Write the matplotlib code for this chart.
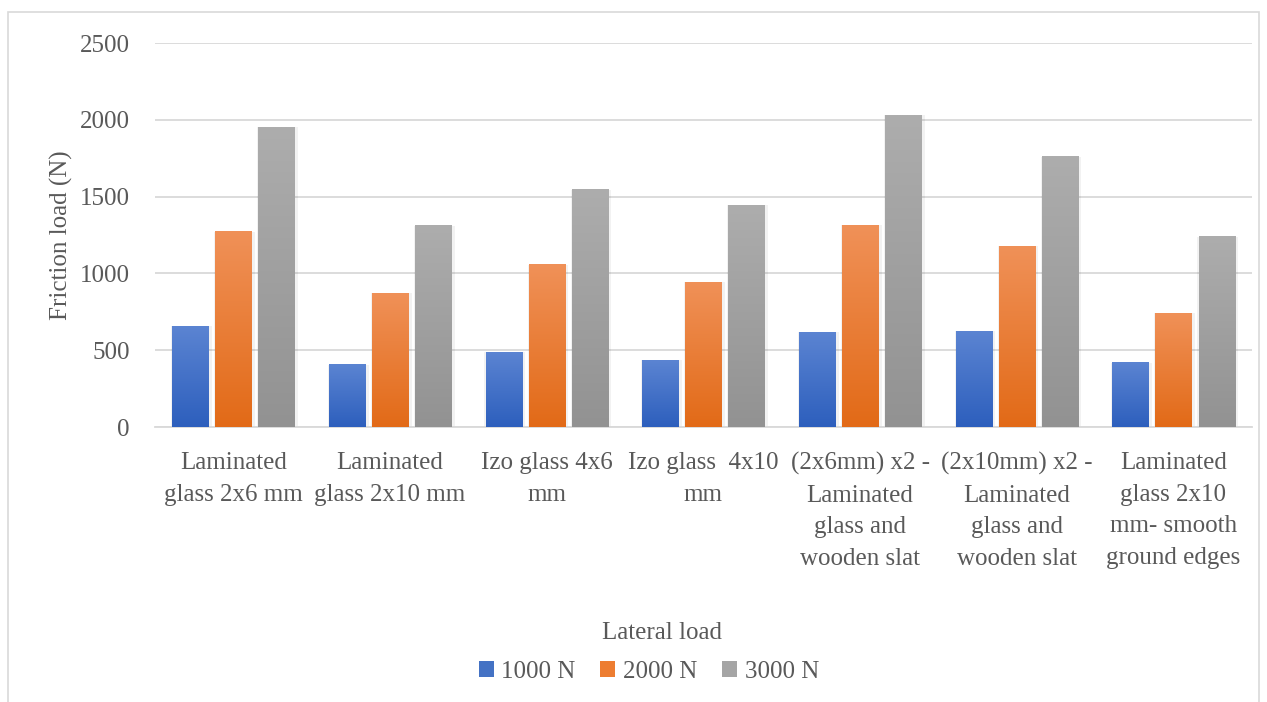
import matplotlib
matplotlib.use("Agg")
import matplotlib.pyplot as plt
import numpy as np
from matplotlib.colors import LinearSegmentedColormap
from matplotlib.patches import Rectangle

categories = ["Laminated\nglass 2x6 mm", "Laminated\nglass 2x10 mm", "Izo glass 4x6\nmm",
              "Izo glass  4x10\nmm", "(2x6mm) x2 -\nLaminated\nglass and\nwooden slat",
              "(2x10mm) x2 -\nLaminated\nglass and\nwooden slat",
              "Laminated\nglass 2x10\nmm- smooth\nground edges"]
series_names = ["1000 N", "2000 N", "3000 N"]
s1000 = [657, 404, 488, 436, 618, 625, 417]
s2000 = [1270, 872, 1055, 944, 1315, 1178, 742]
s3000 = [1953, 1309, 1543, 1445, 2031, 1758, 1237]
yticks = [0, 500, 1000, 1500, 2000, 2500]

grads = [("#5b84d2", "#2d5fbd", "#4472c4"),
         ("#f09158", "#e26a17", "#ed7d31"),
         ("#adadad", "#929292", "#a5a5a5")]

plt.rcParams['font.family'] = ['Liberation Serif', 'DejaVu Serif']
txt = "#595959"
fs = 18

fig = plt.figure(figsize=(12.67, 7.02), dpi=100)
fig.patches.append(Rectangle((0.006, -0.01), 0.988, 0.993, transform=fig.transFigure,
                             fill=False, edgecolor="#d9d9d9", linewidth=1.2))
ax = fig.add_axes([0.1223, 0.3917, 0.8657, 0.547])

x = np.arange(len(categories))
w = 0.23
off = 0.275
data = [s1000, s2000, s3000]
for i, (vals, (ctop, cbot, cmid)) in enumerate(zip(data, grads)):
    pos = x + (i - 1) * off
    # soft shadow
    ax.bar(pos + 0.008, vals, w + 0.03, color="#000000", alpha=0.05, zorder=2, linewidth=0)
    bars = ax.bar(pos, vals, w, color=cmid, zorder=3, linewidth=0, label=series_names[i])
    cmap = LinearSegmentedColormap.from_list("g%d" % i, [cbot, ctop])
    grad = np.linspace(0, 1, 256).reshape(-1, 1)
    for b in bars:
        x0, y0 = b.get_x(), b.get_y()
        ax.imshow(grad, cmap=cmap, origin="lower", aspect="auto",
                  extent=(x0, x0 + b.get_width(), y0, y0 + b.get_height()), zorder=4)

ax.set_xlim(-0.5, len(categories) - 0.5)
ax.set_ylim(0, 2500)
ax.set_yticks(yticks)
ax.set_yticklabels([str(v) for v in yticks], fontsize=fs, color=txt)
ax.set_xticks(x)
ax.set_xticklabels(categories, fontsize=fs, color=txt, linespacing=1.56, va="top")
ax.tick_params(length=0, pad=18, axis="y")
ax.tick_params(length=0, pad=18, axis="x")
ax.yaxis.grid(True, color="#d9d9d9", linewidth=1.3, zorder=0)
ax.set_axisbelow(True)
for s in ["top", "right", "left"]:
    ax.spines[s].set_visible(False)
ax.spines["bottom"].set_color("#d9d9d9")
ax.spines["bottom"].set_linewidth(1.3)
ax.set_ylabel("Friction load (N)", fontsize=fs, color=txt, labelpad=5)

handles, labels = ax.get_legend_handles_labels()
leg = fig.legend(handles, labels, loc="center", bbox_to_anchor=(0.512, 0.043), ncol=3,
                 frameon=False, fontsize=fs, handlelength=0.6, handleheight=0.6,
                 handletextpad=0.3, columnspacing=1.0, labelcolor=txt)
fig.text(0.5225, 0.098, "Lateral load", ha="center", va="center", fontsize=fs, color=txt)

fig.savefig("out.png", dpi=100)
